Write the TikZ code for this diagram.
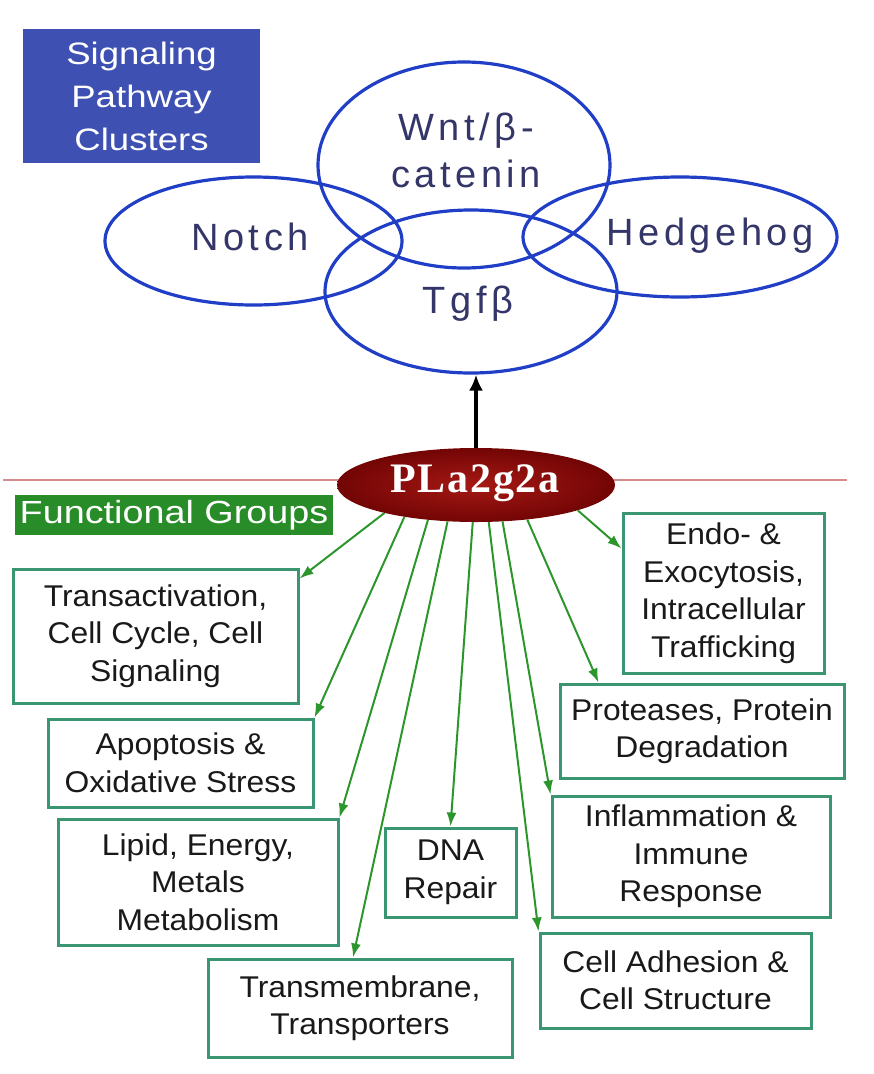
\documentclass[tikz,border=0pt]{standalone}
\usepackage{fontspec}
\setmainfont{Liberation Sans}
\newfontfamily\titlefont[FakeStretch=1.18]{Liberation Sans}
\newfontfamily\ellfont[LetterSpace=12]{Liberation Sans}
\newfontfamily\boxfont[FakeStretch=1.06]{Liberation Sans}
\newfontfamily\plafont[LetterSpace=4]{Liberation Serif}
\usetikzlibrary{shapes.geometric,arrows.meta}
\definecolor{titleblue}{RGB}{62,80,178}
\definecolor{ellblue}{RGB}{32,62,198}
\definecolor{elltext}{RGB}{52,54,105}
\definecolor{boxgreen}{RGB}{58,150,112}
\definecolor{arrgreen}{RGB}{44,150,44}
\definecolor{fgreen}{RGB}{40,140,40}
\definecolor{linered}{RGB}{212,140,140}
\definecolor{plaout}{RGB}{115,5,5}
\definecolor{plain}{RGB}{165,25,20}
\begin{document}
\begin{tikzpicture}[x=1pt,y=-1pt,
  pathell/.style={ellipse, draw=ellblue, line width=3.2pt, inner sep=0pt},
  elltxt/.style={font=\ellfont\fontsize{38}{47}\selectfont, text=elltext, inner sep=0pt, anchor=base, align=center},
  fnbox/.style={rectangle, draw=boxgreen, line width=3pt, inner sep=0pt, align=center, font=\boxfont\fontsize{30}{37.5}\selectfont, text=black!90},
  garrow/.style={draw=arrgreen, line width=2pt, -{Latex[length=14pt,width=10pt]}},
]
\useasboundingbox (0,0) rectangle (874,1074);

% title
\node[fill=titleblue, minimum width=237pt, minimum height=134pt, inner sep=0pt, align=center, text=white, font=\titlefont\fontsize{31}{43}\selectfont] (title) at (141.5,96) {Signaling\\Pathway\\Clusters};

% pathway ellipses
\node[pathell, minimum width=292pt, minimum height=206pt] (wnt) at (464,165) {};
\node[pathell, minimum width=297pt, minimum height=128pt] (notch) at (253.5,241) {};
\node[pathell, minimum width=314pt, minimum height=120pt] (hh) at (680,237) {};
\node[pathell, minimum width=292pt, minimum height=163pt] (tgf) at (471,291.5) {};
\node[elltxt] (wntT) at (466,187) {Wnt/β-\\catenin};
\node[elltxt] (notchT) at (250,250) {Notch};
\node[elltxt] (hhT) at (710,245) {Hedgehog};
\node[elltxt] (tgfT) at (468,313) {Tgfβ};

% divider
\coordinate (divL) at (3,480);
\coordinate (divR) at (847,480);
\draw[linered, line width=2pt] (divL) -- (divR);

% central gene
\node[ellipse, minimum width=278pt, minimum height=74pt, inner sep=0pt, inner color=plain, outer color=plaout] (pla) at (476,485) {};
\node[font=\plafont\bfseries\fontsize{42}{42}\selectfont, text=white, anchor=base, inner sep=0pt] (plaT) at (475,492) {PLa2g2a};

\draw[line width=3.5pt, -{Latex[length=16pt,width=14pt]}] (pla.north) -- (pla.north |- tgf.south);

% functional groups label
\node[fill=fgreen, minimum width=318pt, minimum height=40pt, inner sep=0pt, text=white, font=\titlefont\fontsize{32}{32}\selectfont] (fg) at (174,515) {Functional Groups};

% boxes
\node[fnbox, minimum width=285pt, minimum height=134pt] (ta) at (155.5,636) {Transactivation,\\Cell Cycle, Cell\\Signaling};
\node[fnbox, minimum width=265pt, minimum height=88pt] (ap) at (180.5,763) {Apoptosis \&\\Oxidative Stress};
\node[fnbox, minimum width=280pt, minimum height=126pt] (li) at (198,882) {Lipid, Energy,\\Metals\\Metabolism};
\node[fnbox, minimum width=304pt, minimum height=98pt] (tm) at (360,1008) {Transmembrane,\\Transporters};
\node[fnbox, minimum width=131pt, minimum height=89pt] (dna) at (450.5,872.5) {DNA\\Repair};
\node[fnbox, minimum width=201pt, minimum height=160pt] (en) at (723.5,593) {Endo- \&\\Exocytosis,\\Intracellular\\Trafficking};
\node[fnbox, minimum width=284pt, minimum height=94pt] (pr) at (702,731) {Proteases, Protein\\Degradation};
\node[fnbox, minimum width=278pt, minimum height=121pt] (inf) at (691,856.5) {Inflammation \&\\Immune\\Response};
\node[fnbox, minimum width=271pt, minimum height=95pt] (ca) at (675.5,980.5) {Cell Adhesion \&\\Cell Structure};

% arrows
\draw[garrow] (pla.197) -- ([yshift=-11pt]ta.north east);
\draw[garrow] (pla.204) -- (ap.north east);
\draw[garrow] (pla.216) -- (li.north east);
\draw[garrow] (pla.232) -- ([xshift=-7pt]tm.north);
\draw[garrow] (pla.265) -- (dna.north);
\draw[garrow] (pla.289) -- (ca.north west);
\draw[garrow] (pla.306) -- (inf.north west);
\draw[garrow] (pla.326) -- ([xshift=40pt]pr.north west);
\draw[garrow] (pla.346) -- ([yshift=-37pt]en.north west);
\end{tikzpicture}
\end{document}
